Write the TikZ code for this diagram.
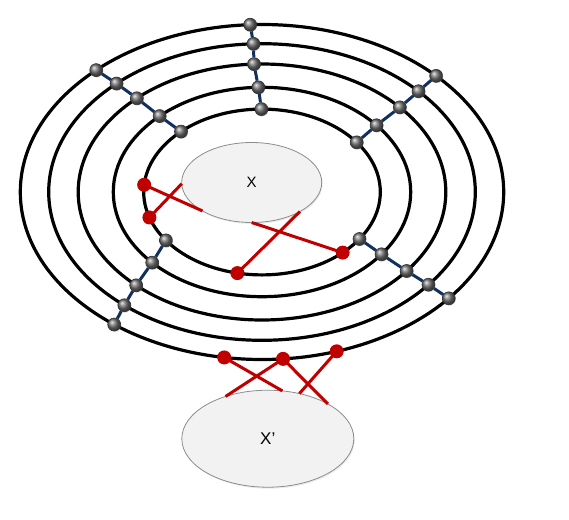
\documentclass[tikz,border=0pt]{standalone}
\usepackage{fontspec}
\setmainfont{Liberation Sans}
\usetikzlibrary{shapes.geometric,shadows}
\definecolor{ringred}{HTML}{C00000}
\definecolor{navy}{HTML}{12305F}
\definecolor{blobfill}{HTML}{F2F2F2}
\definecolor{blobline}{HTML}{8C8C8C}
\begin{document}
\begin{tikzpicture}[x=1pt,y=-1pt,
  ring/.style={draw=black, line width=3.2pt},
  spoke/.style={draw=navy, line width=3pt},
  ball/.style={circle, inner sep=0pt, minimum size=13pt, shading=ball, ball color=gray!90!black,
    draw=black!80, line width=0.6pt,
    drop shadow={opacity=0.25, shadow xshift=0.6pt, shadow yshift=-1pt}},
  rdot/.style={circle, inner sep=0pt, minimum size=14pt, fill=ringred},
  rline/.style={draw=ringred, line width=3pt},
  blob/.style={ellipse, draw=blobline, fill=blobfill, line width=0.8pt, inner sep=0pt, outer sep=0pt,
    drop shadow={opacity=0.15, shadow xshift=1pt, shadow yshift=-1.5pt}},
]
\useasboundingbox (0,0) rectangle (569,519);
% rings
\foreach \rx/\ry in {241.7/167.5, 213.3/148.3, 183.8/128, 148.7/104.7, 118.3/82.9}
  \draw[ring] (262,192) ellipse [x radius=\rx pt, y radius=\ry pt];
% radial chains of balls
\foreach \g/\ta/\tb/\tc/\td/\te in {T/92.8/92.3/92.5/91.4/90.3,
    L/133.3/133/132.9/133.5/133.2, R/43.9/42.8/41.4/39.6/36.8,
    P/232.3/229.8/226.8/222.4/215.7, Q/320.6/321.3/321.9/323.5/325.5} {
  \node[ball] (\g1) at ({262+241.7*cos(\ta)},{192-167.5*sin(\ta)}) {};
  \node[ball] (\g2) at ({262+213.3*cos(\tb)},{192-148.3*sin(\tb)}) {};
  \node[ball] (\g3) at ({262+183.8*cos(\tc)},{192-128*sin(\tc)}) {};
  \node[ball] (\g4) at ({262+148.7*cos(\td)},{192-104.7*sin(\td)}) {};
  \node[ball] (\g5) at ({262+118.3*cos(\te)},{192-82.9*sin(\te)}) {};
  \draw[spoke] (\g1) -- (\g2) -- (\g3) -- (\g4) -- (\g5);
}
% sets
\node[blob, minimum width=140pt, minimum height=80pt] (X) at (251.7,182.5) {\fontsize{15}{18}\selectfont X};
\node[blob, minimum width=172pt, minimum height=97pt] (Xp) at (267.8,438.7) {\fontsize{17}{20}\selectfont X’};
% red points on inner ring
\node[rdot] (a1) at ({262+118.3*cos(175)},{192-82.9*sin(175)}) {};
\node[rdot] (a2) at ({262+118.3*cos(197.9)},{192-82.9*sin(197.9)}) {};
\node[rdot] (a3) at ({262+118.3*cos(258)},{192-82.9*sin(258)}) {};
\node[rdot] (a4) at ({262+118.3*cos(313)},{192-82.9*sin(313)}) {};
\draw[rline] (a1.center) -- (X.210);
\draw[rline] (a2.center) -- (X.181);
\draw[rline] (a3.center) -- (X.329);
\draw[rline] (a4.center) -- (X.270);
% red points on outer ring
\node[rdot] (b1) at ({262+241.7*cos(261)},{192-167.5*sin(261)}) {};
\node[rdot] (b2) at ({262+241.7*cos(275)},{192-167.5*sin(275)}) {};
\node[rdot] (b3) at ({262+241.7*cos(288)},{192-167.5*sin(288)}) {};
\draw[rline] (b1.center) -- (Xp.73.6);
\draw[rline] (b2.center) -- (Xp.135.4);
\draw[rline] (b2.center) -- (Xp.30.1);
\draw[rline] (b3.center) -- (Xp.55.6);
\end{tikzpicture}
\end{document}
